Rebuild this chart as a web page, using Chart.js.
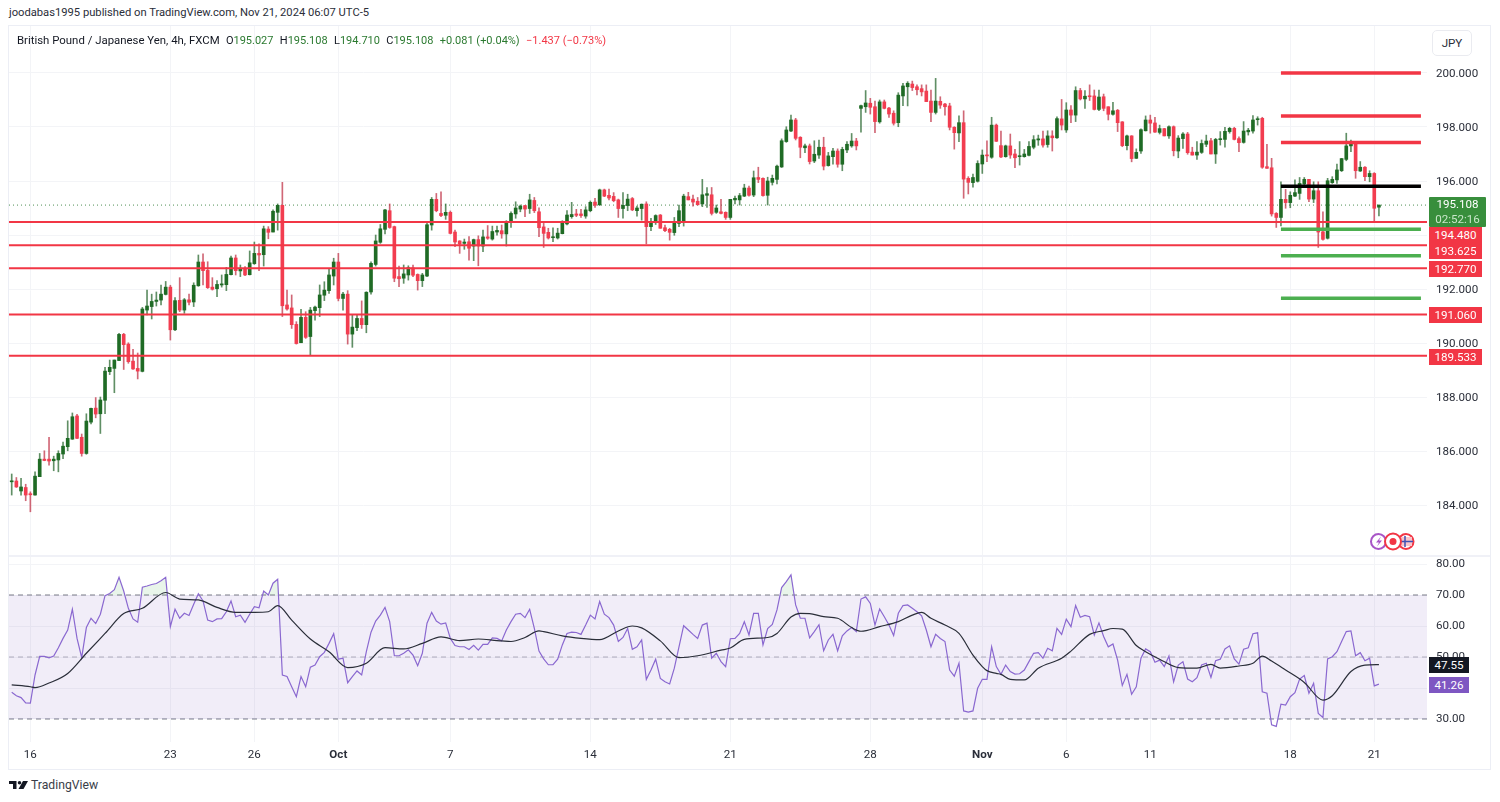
<!DOCTYPE html>
<html>
<head>
<meta charset="utf-8">
<title>GBP/JPY 4h</title>
<script src="https://cdn.jsdelivr.net/npm/chart.js@4"></script>
<style>
    html, body { margin: 0; padding: 0; background: #fff; width: 1500px; height: 802px; overflow: hidden; }
    body { font-family: Roboto, sans-serif; color: #131722; position: relative; }
    .abs { position: absolute; white-space: nowrap; }
    #frame { left: 8px; top: 25px; width: 1481px; height: 743px; border: 1px solid #eceef5; }
    #sep { left: 9px; top: 555px; width: 1481px; height: 2px; background: #f0f1f7; }
    #priceBox { left: 9px; top: 26px; width: 1481px; height: 529px; }
    #rsiBox { left: 9px; top: 557px; width: 1481px; height: 211px; }
    #published { left: 9px; top: 5px; font-size: 11.2px; line-height: 16px; color: #2a2e39; }
    #legend { left: 17px; top: 32px; font-size: 11.4px; line-height: 16px; color: #131722; }
    #legend .g { color: #2b7a30; margin-left: 3.5px; font-size: 11px; }
    #legend .g b { font-weight: normal; color: #131722; }
    #legend .r { color: #f23645; margin-left: 3.5px; font-size: 11px; }
    #currency { left: 1432px; top: 30px; width: 38px; height: 24px; border: 1px solid #eaebf0; border-radius: 5px; font-size: 11.6px; line-height: 24px; text-align: center; color: #2a2e39; background: #fff; }
    .tag { left: 1429px; width: 53px; height: 16px; line-height: 16px; font-size: 11.6px; text-align: center; color: #fff; background: #f23645; z-index: 3; }
    #tagLast { left: 1429px; top: 197px; width: 57px; height: 30px; background: #388e3c; color: #fff; font-size: 11.6px; line-height: 14.5px; text-align: center; z-index: 4; border-radius: 1px; }
    #tagLast span { color: #c8e6c9; }
    .rsiTag { width: 40px; }
    #brand { left: 31px; top: 777px; font-size: 12.2px; line-height: 17px; color: #3a3e49; }
</style>
</head>
<body>
<div class="abs" id="frame"></div>
<div class="abs" id="priceBox"><canvas id="priceChart"></canvas></div>
<div class="abs" id="sep"></div>
<div class="abs" id="rsiBox"><canvas id="rsiChart"></canvas></div>

<div class="abs" id="published">joodabas1995 published on TradingView.com, Nov 21, 2024 06:07 UTC-5</div>
<div class="abs" id="legend">British Pound / Japanese Yen, 4h, FXCM <span class="g"><b>O</b>195.027</span> <span class="g"><b>H</b>195.108</span> <span class="g"><b>L</b>194.710</span> <span class="g"><b>C</b>195.108</span> <span class="g">+0.081 (+0.04%)</span> <span class="r">−1.437 (−0.73%)</span></div>
<div class="abs" id="currency">JPY</div>

<div class="abs" id="tagLast">195.108<br><span>02:52:16</span></div>
<div class="abs tag" style="top:227px">194.480</div>
<div class="abs tag" style="top:243px">193.625</div>
<div class="abs tag" style="top:261px">192.770</div>
<div class="abs tag" style="top:307px">191.060</div>
<div class="abs tag" style="top:349px">189.533</div>
<div class="abs tag rsiTag" style="top:657px;background:#131722">47.55</div>
<div class="abs tag rsiTag" style="top:677px;background:#7e57c2">41.26</div>

<svg class="abs" style="left:1369px;top:532px;z-index:2" width="50" height="20" viewBox="0 0 50 20">
    <circle cx="9.5" cy="9.5" r="7.5" fill="#fff" stroke="#a855c7" stroke-width="2"/>
    <path d="M12 4.5 L7 10.5 H10 L8 14.5 L13 8.5 H10 Z" fill="#a855c7"/>
    <circle cx="37" cy="9.5" r="7.5" fill="#fff" stroke="#f23645" stroke-width="2"/>
    <path d="M31 5 H43 V14 H31 Z" fill="#f7c5cb"/>
    <path d="M36 4 V15 M30 9.5 H44" stroke="#3f51b5" stroke-width="1.5"/>
    <circle cx="24" cy="9.5" r="8" fill="#fff" stroke="#f23645" stroke-width="2"/>
    <circle cx="24" cy="9.5" r="3.5" fill="#f23645"/>
</svg>

<svg class="abs" style="left:9px;top:780.5px" width="19" height="8" viewBox="0 0 38 16">
    <path d="M0 0 H15 V16 H8 V6 H0 Z" fill="#131722"/>
    <circle cx="21" cy="3.5" r="3.5" fill="#131722"/>
    <path d="M28 0 H38 L29 16 H19 Z" fill="#131722"/>
</svg>
<div class="abs" id="brand">TradingView</div>

<script>
// candles, one per 4h bar
const opens = [
    184.86,184.89,184.52,184.65,184.42,184.37,185.05,185.70,185.70,185.64,
    185.67,185.89,186.16,186.44,187.30,186.51,185.91,187.07,187.59,187.38,
    187.88,188.94,189.06,189.35,190.32,189.96,189.33,189.06,188.95,191.22,
    191.35,191.54,191.59,191.80,192.07,190.49,191.58,191.22,191.60,191.52,
    192.12,193.00,192.69,192.07,192.01,192.15,192.16,192.53,193.15,192.67,
    192.77,192.53,192.94,193.32,193.27,194.22,194.11,194.84,195.10,191.41,
    191.30,190.69,190.01,190.95,190.24,191.20,191.31,191.77,191.94,192.48,
    193.00,191.65,191.81,190.33,190.57,190.91,190.68,191.89,192.91,193.73,
    194.21,194.90,194.31,192.46,192.40,192.52,192.78,192.54,192.31,192.48,
    194.37,195.32,194.80,194.73,194.84,194.11,193.78,193.69,193.75,193.59,
    193.83,193.59,193.93,193.85,194.11,194.16,194.04,194.46,194.78,194.96,
    195.09,194.98,195.28,194.86,194.30,194.10,193.90,193.89,194.05,194.41,
    194.68,194.78,194.78,194.70,194.90,195.22,195.12,195.67,195.47,195.43,
    195.30,194.98,195.09,195.35,194.90,194.98,195.15,194.31,194.46,194.74,
    194.27,194.21,194.09,194.43,194.49,195.42,195.33,195.25,195.15,195.47,
    195.49,194.84,194.86,194.84,194.65,195.30,195.30,195.44,195.74,195.48,
    196.13,196.10,195.47,195.95,196.06,196.52,197.46,197.85,198.26,197.62,
    197.23,197.30,196.74,196.96,197.25,196.57,196.90,197.11,196.62,197.15,
    197.30,197.48,198.69,198.75,198.88,198.75,198.19,198.93,198.70,198.51,
    198.16,199.15,199.49,199.59,199.49,199.42,199.33,198.96,198.54,198.95,
    198.85,198.78,197.99,197.78,198.16,196.10,195.94,195.99,196.63,196.96,
    196.88,198.07,197.31,196.90,197.30,197.00,196.90,196.90,196.95,197.25,
    197.52,197.56,197.35,197.67,197.60,198.30,197.89,198.63,198.44,199.35,
    199.04,199.15,199.15,198.65,199.12,198.75,198.47,198.62,198.19,197.31,
    197.67,196.84,197.11,197.86,198.26,198.15,197.80,197.94,197.67,198.01,
    197.11,197.57,197.74,197.07,196.96,197.06,197.36,197.49,197.00,197.53,
    197.54,197.83,197.95,197.57,197.43,197.82,197.85,198.27,198.32,196.53,
    196.49,194.80,194.65,195.32,195.20,195.44,195.54,195.89,196.06,195.33,
    195.64,194.12,193.88,195.94,196.04,196.38,196.80,197.30,197.39,196.37,
    196.51,196.16,196.28,195.03
];
const closes = [
    184.89,184.67,184.67,184.37,184.38,185.07,185.70,185.65,185.63,185.70,
    185.91,186.18,186.47,187.27,186.47,185.91,187.11,187.58,187.37,187.89,
    188.96,189.10,189.37,190.32,189.94,189.31,189.04,188.96,191.26,191.37,
    191.54,191.59,191.81,192.07,190.49,191.57,191.22,191.60,191.51,192.14,
    193.00,192.68,192.05,191.99,192.17,192.19,192.54,193.15,192.68,192.77,
    192.52,192.97,193.32,193.26,194.23,194.10,194.88,195.10,191.38,191.26,
    190.68,189.98,190.95,190.21,191.22,191.33,191.78,191.96,192.52,193.00,
    191.65,191.81,190.33,190.59,190.91,190.68,191.88,192.95,193.78,194.23,
    194.93,194.28,192.40,192.38,192.56,192.79,192.51,192.31,192.52,194.38,
    195.32,194.90,194.72,194.84,194.06,193.74,193.67,193.74,193.51,193.83,
    193.59,193.93,193.88,194.13,194.17,194.04,194.48,194.80,195.00,195.07,
    194.96,195.30,194.90,194.27,194.06,193.89,193.93,194.07,194.50,194.74,
    194.76,194.73,194.72,194.93,195.21,195.10,195.67,195.44,195.37,195.27,
    194.98,195.10,195.33,194.93,195.00,195.14,194.31,194.49,194.72,194.25,
    194.16,194.10,194.46,194.90,195.44,195.30,195.22,195.12,195.49,195.53,
    194.80,195.00,194.80,194.65,195.32,195.36,195.46,195.74,195.47,196.12,
    196.06,195.46,196.00,196.10,196.55,197.49,197.89,198.26,197.58,197.25,
    197.30,196.72,196.99,197.25,196.55,196.93,197.11,196.62,197.17,197.36,
    197.48,197.30,198.79,198.89,198.73,198.20,198.93,198.69,198.48,198.14,
    199.18,199.52,199.62,199.46,199.38,199.30,198.94,198.54,198.96,198.81,
    198.75,197.99,197.79,198.16,196.07,195.95,196.13,196.65,196.96,196.93,
    198.07,197.47,196.89,197.30,196.96,196.86,196.93,197.00,197.28,197.53,
    197.56,197.33,197.67,197.60,198.31,198.07,198.63,198.44,199.35,199.04,
    199.14,199.12,198.65,199.11,198.69,198.47,198.60,198.16,197.31,197.67,
    196.83,197.06,197.90,198.26,198.14,197.81,197.94,197.67,198.01,197.12,
    197.59,197.74,197.05,196.96,197.07,197.39,197.48,197.00,197.54,197.56,
    197.84,197.95,197.54,197.42,197.85,197.88,198.26,198.30,196.51,196.47,
    194.78,194.65,195.32,195.20,195.47,195.57,195.91,196.06,195.33,195.64,
    194.11,193.84,196.01,196.06,196.41,196.83,197.30,197.46,196.38,196.51,
    196.16,196.28,194.99,195.11
];
const highs = [
    185.15,185.02,184.99,184.77,184.49,185.23,185.91,186.01,186.51,185.81,
    186.01,186.33,187.12,187.41,187.36,186.63,187.38,187.59,187.98,188.00,
    189.10,189.37,189.37,190.36,190.36,190.01,189.77,189.63,191.32,191.96,
    191.81,191.89,192.15,192.28,192.14,191.68,192.42,191.65,191.81,192.23,
    193.26,193.30,193.01,192.42,192.31,192.52,192.80,193.22,193.26,192.89,
    192.83,193.41,193.74,193.67,194.33,194.31,194.93,195.15,195.95,191.96,
    191.78,190.79,191.25,191.16,191.32,191.37,192.15,192.27,192.74,193.14,
    193.32,191.88,191.94,191.04,191.04,191.56,191.90,193.01,194.00,194.39,
    194.95,195.15,194.33,192.85,192.89,192.86,192.89,192.56,192.58,194.49,
    195.39,195.54,195.60,195.15,194.89,194.18,193.79,193.85,193.94,193.85,
    193.97,194.18,194.35,194.33,194.33,194.37,194.53,194.86,195.23,195.11,
    195.10,195.51,195.39,195.01,194.43,194.25,194.27,194.25,194.53,194.90,
    195.21,194.95,194.95,195.05,195.26,195.36,195.70,195.70,195.70,195.57,
    195.33,195.57,195.51,195.39,195.07,195.15,195.23,194.62,194.75,194.76,
    194.37,194.25,194.65,195.11,195.51,195.58,195.48,195.39,196.06,195.76,
    195.76,195.11,195.32,194.86,195.32,195.44,195.54,195.88,195.81,196.37,
    196.51,196.12,196.14,196.22,196.59,197.56,198.01,198.44,198.32,197.64,
    197.37,197.37,197.49,197.52,197.62,197.06,197.21,197.19,197.25,197.46,
    197.76,197.58,198.81,199.35,199.06,198.96,199.00,199.00,198.73,198.60,
    199.27,199.62,199.68,199.70,199.56,199.56,199.56,199.37,199.80,199.12,
    198.88,198.88,198.01,198.41,198.60,196.16,196.26,196.75,197.15,197.49,
    198.36,198.11,197.85,197.33,197.74,197.17,197.46,197.17,197.46,197.68,
    197.70,197.85,197.86,197.86,198.38,199.02,198.90,198.79,199.49,199.43,
    199.35,199.56,199.37,199.37,199.22,198.75,198.91,198.65,198.20,197.70,
    197.68,197.19,197.93,198.41,198.44,198.36,198.07,197.95,198.04,198.04,
    197.68,197.79,197.80,197.25,197.46,197.52,197.70,197.58,197.58,197.83,
    197.99,197.99,197.99,197.64,198.20,197.95,198.42,198.38,198.36,197.36,
    196.84,194.83,195.97,195.69,195.60,196.04,196.13,196.13,196.06,195.97,
    195.97,194.86,196.10,196.16,196.63,196.84,197.77,197.52,197.42,196.72,
    196.53,196.38,196.31,195.11
];
const lows = [
    184.37,184.65,184.37,184.16,183.75,184.37,185.05,185.64,185.48,185.27,
    185.23,185.72,186.01,186.43,186.46,185.81,185.88,187.00,187.23,186.65,
    187.38,188.83,188.16,189.35,189.02,189.25,189.02,188.67,188.93,191.04,
    190.89,191.37,191.41,191.78,190.11,190.46,191.16,191.10,191.41,191.35,
    192.10,192.15,192.02,191.96,191.72,192.07,191.94,192.52,192.52,192.46,
    192.49,192.52,192.91,192.68,192.85,193.86,194.11,194.18,190.98,191.22,
    190.54,189.96,190.01,190.17,189.56,190.85,190.98,191.57,191.84,192.15,
    191.56,191.22,189.96,189.84,190.46,190.54,190.38,191.81,192.85,193.69,
    194.04,194.25,192.27,192.09,192.21,192.33,192.46,191.96,192.09,192.46,
    194.18,194.86,194.68,194.58,194.04,193.57,193.32,193.47,193.07,193.05,
    192.86,193.38,193.84,193.81,193.99,193.88,193.59,194.28,194.62,194.86,
    194.68,194.80,194.83,193.94,193.54,193.85,193.75,193.85,194.04,194.37,
    194.62,194.68,194.65,194.62,194.86,195.02,195.09,195.42,195.30,195.23,
    194.65,194.62,194.90,194.90,194.70,194.55,193.67,194.16,194.39,194.25,
    194.12,193.81,193.99,194.31,194.33,195.30,195.07,195.11,195.05,195.02,
    194.74,194.80,194.78,194.58,194.58,195.15,195.11,195.42,195.44,195.42,
    195.94,195.44,195.11,195.85,195.89,196.50,197.43,197.83,197.52,196.86,
    197.05,196.63,196.68,196.84,196.41,196.55,196.62,196.51,196.38,197.05,
    197.25,197.15,197.81,198.54,198.48,197.79,198.14,198.67,198.35,198.07,
    198.01,198.79,198.78,199.35,199.19,199.15,198.94,198.20,198.48,198.69,
    198.44,197.89,197.18,197.46,195.36,195.52,195.77,195.96,196.28,196.72,
    196.84,197.46,196.86,196.88,196.84,196.49,196.59,196.88,196.93,197.19,
    197.32,197.25,197.25,197.11,197.58,197.89,197.80,198.16,198.20,199.00,
    198.69,198.98,198.63,198.60,198.60,198.26,198.44,197.83,197.27,197.15,
    196.71,196.83,197.02,197.85,197.77,197.80,197.74,197.67,197.58,196.93,
    196.86,197.21,196.99,196.96,196.80,197.02,197.27,197.00,196.65,197.33,
    197.25,197.77,197.52,197.09,197.40,197.70,197.77,198.07,196.47,196.47,
    194.70,194.28,194.34,194.99,195.01,195.42,195.32,195.85,195.23,195.20,
    193.54,193.81,193.85,195.91,195.91,196.35,196.75,197.09,196.10,196.35,
    196.01,195.97,194.51,194.71
];

// RSI per bar, and its moving average read at the bars listed in maBars
const rsiValues = [
    38.6,37.5,36.9,35.2,35.1,44.2,50.2,50.2,49.7,50.3,
    53,56,58.7,65.4,56,49.8,59.5,62.5,60.8,63.8,
    69.8,70.5,71.7,75.7,71.3,65.7,62.3,61.2,72.5,72.9,
    73.4,73.7,74.6,75.7,59.8,65.4,62.5,64.1,63.4,67,
    70.4,68.1,61.9,61.4,62.3,62.4,64.6,68.1,63,63.5,
    61.2,63.8,66.2,65.9,71.3,70,73.8,75.1,44.2,43.7,
    40.4,37.2,43.7,40.4,46.7,47.4,50.1,51.5,54.4,57.5,
    49.3,49.6,41.7,43.7,45.5,44.2,51.7,58,61.6,63.5,
    66,61.4,50.4,50.4,51.2,52.3,50.6,47.2,51.2,60.9,
    64.4,61.6,60.6,61,56,53.7,53.3,53.3,52.4,53.8,
    52.2,54.1,54.1,56.2,56,55.2,58.7,61.4,63.8,64.1,
    62.7,65.4,59.2,51.9,49.4,47.5,47.5,49.3,53.9,57.6,
    58,57.9,57.3,60.3,63.5,62.3,67.9,63.8,62.7,60.3,
    55,56.3,59.2,52.5,53.3,55.5,42.8,45.8,49.3,43.1,
    42,41.3,46.4,53.3,60.1,58.7,57.3,56,60.3,60.9,
    49.6,51.2,48.5,46.9,55.9,56,57.6,61.4,57.1,64.1,
    64.1,53.9,59.2,60.5,65.2,72.4,74.3,76.5,66.8,62.5,
    62.5,56.2,58.2,60.4,52,55.5,57.3,52,56.8,58.4,
    59.5,58.2,68.7,69.4,67.3,60.3,65.5,63,60.3,56.9,
    64.1,66.6,66.8,65.7,64.6,63.3,58.7,53.3,57.3,56,
    55,45.8,43.8,48,32.6,32.2,32.6,39.9,42.8,42.8,
    53.3,46.9,44.4,47.4,45.3,44.5,44.6,45.8,48.5,51.2,
    51.4,49.6,52.8,52,59.2,57.3,62.2,59.8,66.6,62.8,
    63.4,63,57.1,61,56.6,53.3,54.2,49,40.8,44.4,
    38,40.4,49.6,52.6,51.7,48.3,49,46.9,50.3,42,
    47.4,48.5,42.9,42,43.3,47.4,48,43.4,48.8,49.3,
    52.6,53.6,49.4,47.7,52.5,53,57.5,57.8,38.8,38.3,
    28.1,27.6,34.8,34.5,37.2,38.5,42.9,44,38.3,41.5,
    31.8,30.5,49.4,50.1,51.7,55,58.2,58.4,50.4,51.4,
    48.8,49.6,40.7,41.26
];
const maBars = [
    0,4,5,8,12,16,20,24,28,33,36,40,44,48,52,55,57,60,64,68,72,76,80,84,88,92,96,100,104,
    105,107,110,113,114,118,122,126,130,133,135,139,143,147,152,154,157,162,164,167,169,171,174,177,180,182,186,190,193,195,197,200,203,206,208,209,211,
    212,214,217,220,225,227,231,234,236,238,241,243,246,250,254,257,259,263,266,268,270,273,277,281,283,287,290,293
];
const maValues = [
    41,40.4,40.1,41.6,44.7,51.2,57.6,64,65.7,70.8,68.7,68.4,66,64.4,64.4,64.6,66.6,61.9,55.8,51.7,46.6,48,53,52.6,54.4,56.5,55.3,55.8,55.3,
    55.2,55,56.3,58.4,58.2,56.8,56,55.6,58.4,60,59.4,55.2,49.8,50.4,52.2,52.9,55.7,56.3,57.6,62.9,64.1,64,63,62.5,59.5,58.3,59.8,61.4,63.5,64.4,62.5,60.3,57.6,50.6,46.9,45.6,44.7,
    44.4,42.8,42.6,46.4,49.6,51.9,57.3,58.5,59.2,59,53.7,51.7,49.3,46.6,46.4,47.6,46.4,47.1,48,50.3,48.7,45.8,41.8,36.1,37.5,45.3,47.4,47.55
];

// drawn price levels
const fullLevels = [194.48, 193.625, 192.77, 191.06, 189.533];
const redTargets = [200, 198.41, 197.43];
const blackLevel = [195.81];
const greenTargets = [194.21, 193.23, 191.66];
const lastPrice = 195.108;

// axes
const timeTickBars = [4, 34, 52, 70, 94, 124, 154, 184, 208, 226, 244, 274, 292];
const timeTickLabels = ['16', '23', '26', 'Oct', '7', '14', '21', '28', 'Nov', '6', '11', '18', '21'];
const priceTicks = [184, 186, 188, 190, 192, 194, 196, 198, 200];
const rsiTicks = [30, 40, 50, 60, 70, 80];

const xMin = -0.58;
const xMax = 303.3;
const targetFrom = 272;
const targetTo = 302;

const GREEN = '#1f6b25';
const RED = '#f23d50';
const GREEN_WICK = 'rgba(35,100,42,0.72)';
const RED_WICK = 'rgba(190,45,65,0.72)';
const GRID = '#f3f4f7';
const TICK_FONT = { family: 'Roboto, sans-serif', size: 11.6 };

const isUp = i => closes[i] >= opens[i];

const levelLine = (value, from, to, color, width) => ({
    type: 'line',
    order: 0,
    data: [{ x: from, y: value }, { x: to, y: value }],
    borderColor: color,
    borderWidth: width,
    pointRadius: 0
});

const fixedTicks = values => scale => {
    scale.ticks = values.map(v => ({ value: v }));
};

// the plot has to fill its box, so drop the room Chart.js keeps for half labels
const noPadding = scale => {
    scale.paddingTop = 0;
    scale.paddingBottom = 0;
    scale.paddingLeft = 0;
    scale.paddingRight = 0;
};

const xAxis = (height, ticks) => ({
    type: 'linear',
    min: xMin,
    max: xMax,
    offset: false,
    afterBuildTicks: fixedTicks(timeTickBars),
    afterFit: scale => {
        scale.height = height;
        noPadding(scale);
    },
    grid: { color: GRID, offset: false, drawTicks: false },
    border: { display: false },
    ticks
});

const yAxis = (min, max, ticks, format, labelOffset) => ({
    position: 'right',
    min,
    max,
    afterBuildTicks: fixedTicks(ticks),
    afterFit: scale => {
        scale.width = 63;
        noPadding(scale);
    },
    grid: { color: GRID, drawTicks: false },
    border: { display: false },
    ticks: {
        font: TICK_FONT,
        color: '#2a2e39',
        padding: 9,
        labelOffset,
        callback: format
    }
});

const baseOptions = {
    responsive: true,
    maintainAspectRatio: false,
    animation: false,
    devicePixelRatio: 1,
    layout: { padding: 0 },
    plugins: { legend: { display: false }, tooltip: { enabled: false } },
    events: []
};

new Chart(document.getElementById('priceChart'), {
    type: 'bar',
    data: {
        datasets: [
            ...fullLevels.map(v => levelLine(v, xMin, xMax, '#f23645', 2)),
            ...redTargets.map(v => levelLine(v, targetFrom, targetTo, '#f23645', 3.5)),
            ...blackLevel.map(v => levelLine(v, targetFrom, targetTo, '#000000', 3.5)),
            ...greenTargets.map(v => levelLine(v, targetFrom, targetTo, '#4caf50', 3.5)),
            {
                type: 'line',
                order: 3,
                data: [{ x: xMin, y: lastPrice }, { x: xMax, y: lastPrice }],
                borderColor: '#4f8f55',
                borderWidth: 1,
                borderDash: [1, 3],
                pointRadius: 0
            },
            {
                order: 1,
                data: opens.map((o, i) => ({ x: i, y: [o, closes[i]] })),
                backgroundColor: opens.map((o, i) => isUp(i) ? GREEN : RED),
                barThickness: 3,
                minBarLength: 1,
                grouped: false,
                borderSkipped: false
            },
            {
                order: 2,
                data: lows.map((l, i) => ({ x: i, y: [l, highs[i]] })),
                backgroundColor: lows.map((l, i) => isUp(i) ? GREEN_WICK : RED_WICK),
                barThickness: 1,
                grouped: false,
                borderSkipped: false
            }
        ]
    },
    options: {
        ...baseOptions,
        scales: {
            x: xAxis(0, { display: false }),
            y: yAxis(182.15, 201.74, priceTicks, v => v.toFixed(3), 1)
        }
    }
});

new Chart(document.getElementById('rsiChart'), {
    type: 'line',
    data: {
        datasets: [
            {
                data: maBars.map((b, i) => ({ x: b, y: maValues[i] })),
                borderColor: '#2a2e39',
                borderWidth: 1.2,
                pointRadius: 0,
                cubicInterpolationMode: 'monotone',
                order: 0
            },
            {
                data: rsiValues.map((v, i) => ({ x: i, y: v })),
                borderColor: '#8a68d0',
                borderWidth: 1.2,
                pointRadius: 0,
                order: 1,
                fill: { target: { value: 70 }, above: 'rgba(76,175,80,0.12)', below: 'rgba(0,0,0,0)' }
            },
            {
                data: [{ x: xMin, y: 70 }, { x: xMax, y: 70 }],
                borderColor: '#787b86',
                borderWidth: 1,
                borderDash: [5, 4],
                pointRadius: 0,
                order: 2,
                fill: '+1',
                backgroundColor: 'rgba(126,87,194,0.11)'
            },
            {
                data: [{ x: xMin, y: 30 }, { x: xMax, y: 30 }],
                borderColor: '#787b86',
                borderWidth: 1,
                borderDash: [5, 4],
                pointRadius: 0,
                order: 3
            },
            {
                data: [{ x: xMin, y: 50 }, { x: xMax, y: 50 }],
                borderColor: 'rgba(120,123,134,0.55)',
                borderWidth: 1,
                borderDash: [5, 4],
                pointRadius: 0,
                order: 4
            }
        ]
    },
    options: {
        ...baseOptions,
        scales: {
            x: xAxis(26, {
                autoSkip: false,
                maxRotation: 0,
                padding: 6,
                color: '#2a2e39',
                font: c => ({ ...TICK_FONT, weight: c.tick && isNaN(c.tick.label) ? 'bold' : 'normal' }),
                callback: v => timeTickLabels[timeTickBars.indexOf(v)]
            }),
            y: yAxis(22.58, 82.26, rsiTicks, v => v.toFixed(2), 0)
        }
    }
});
</script>
</body>
</html>
